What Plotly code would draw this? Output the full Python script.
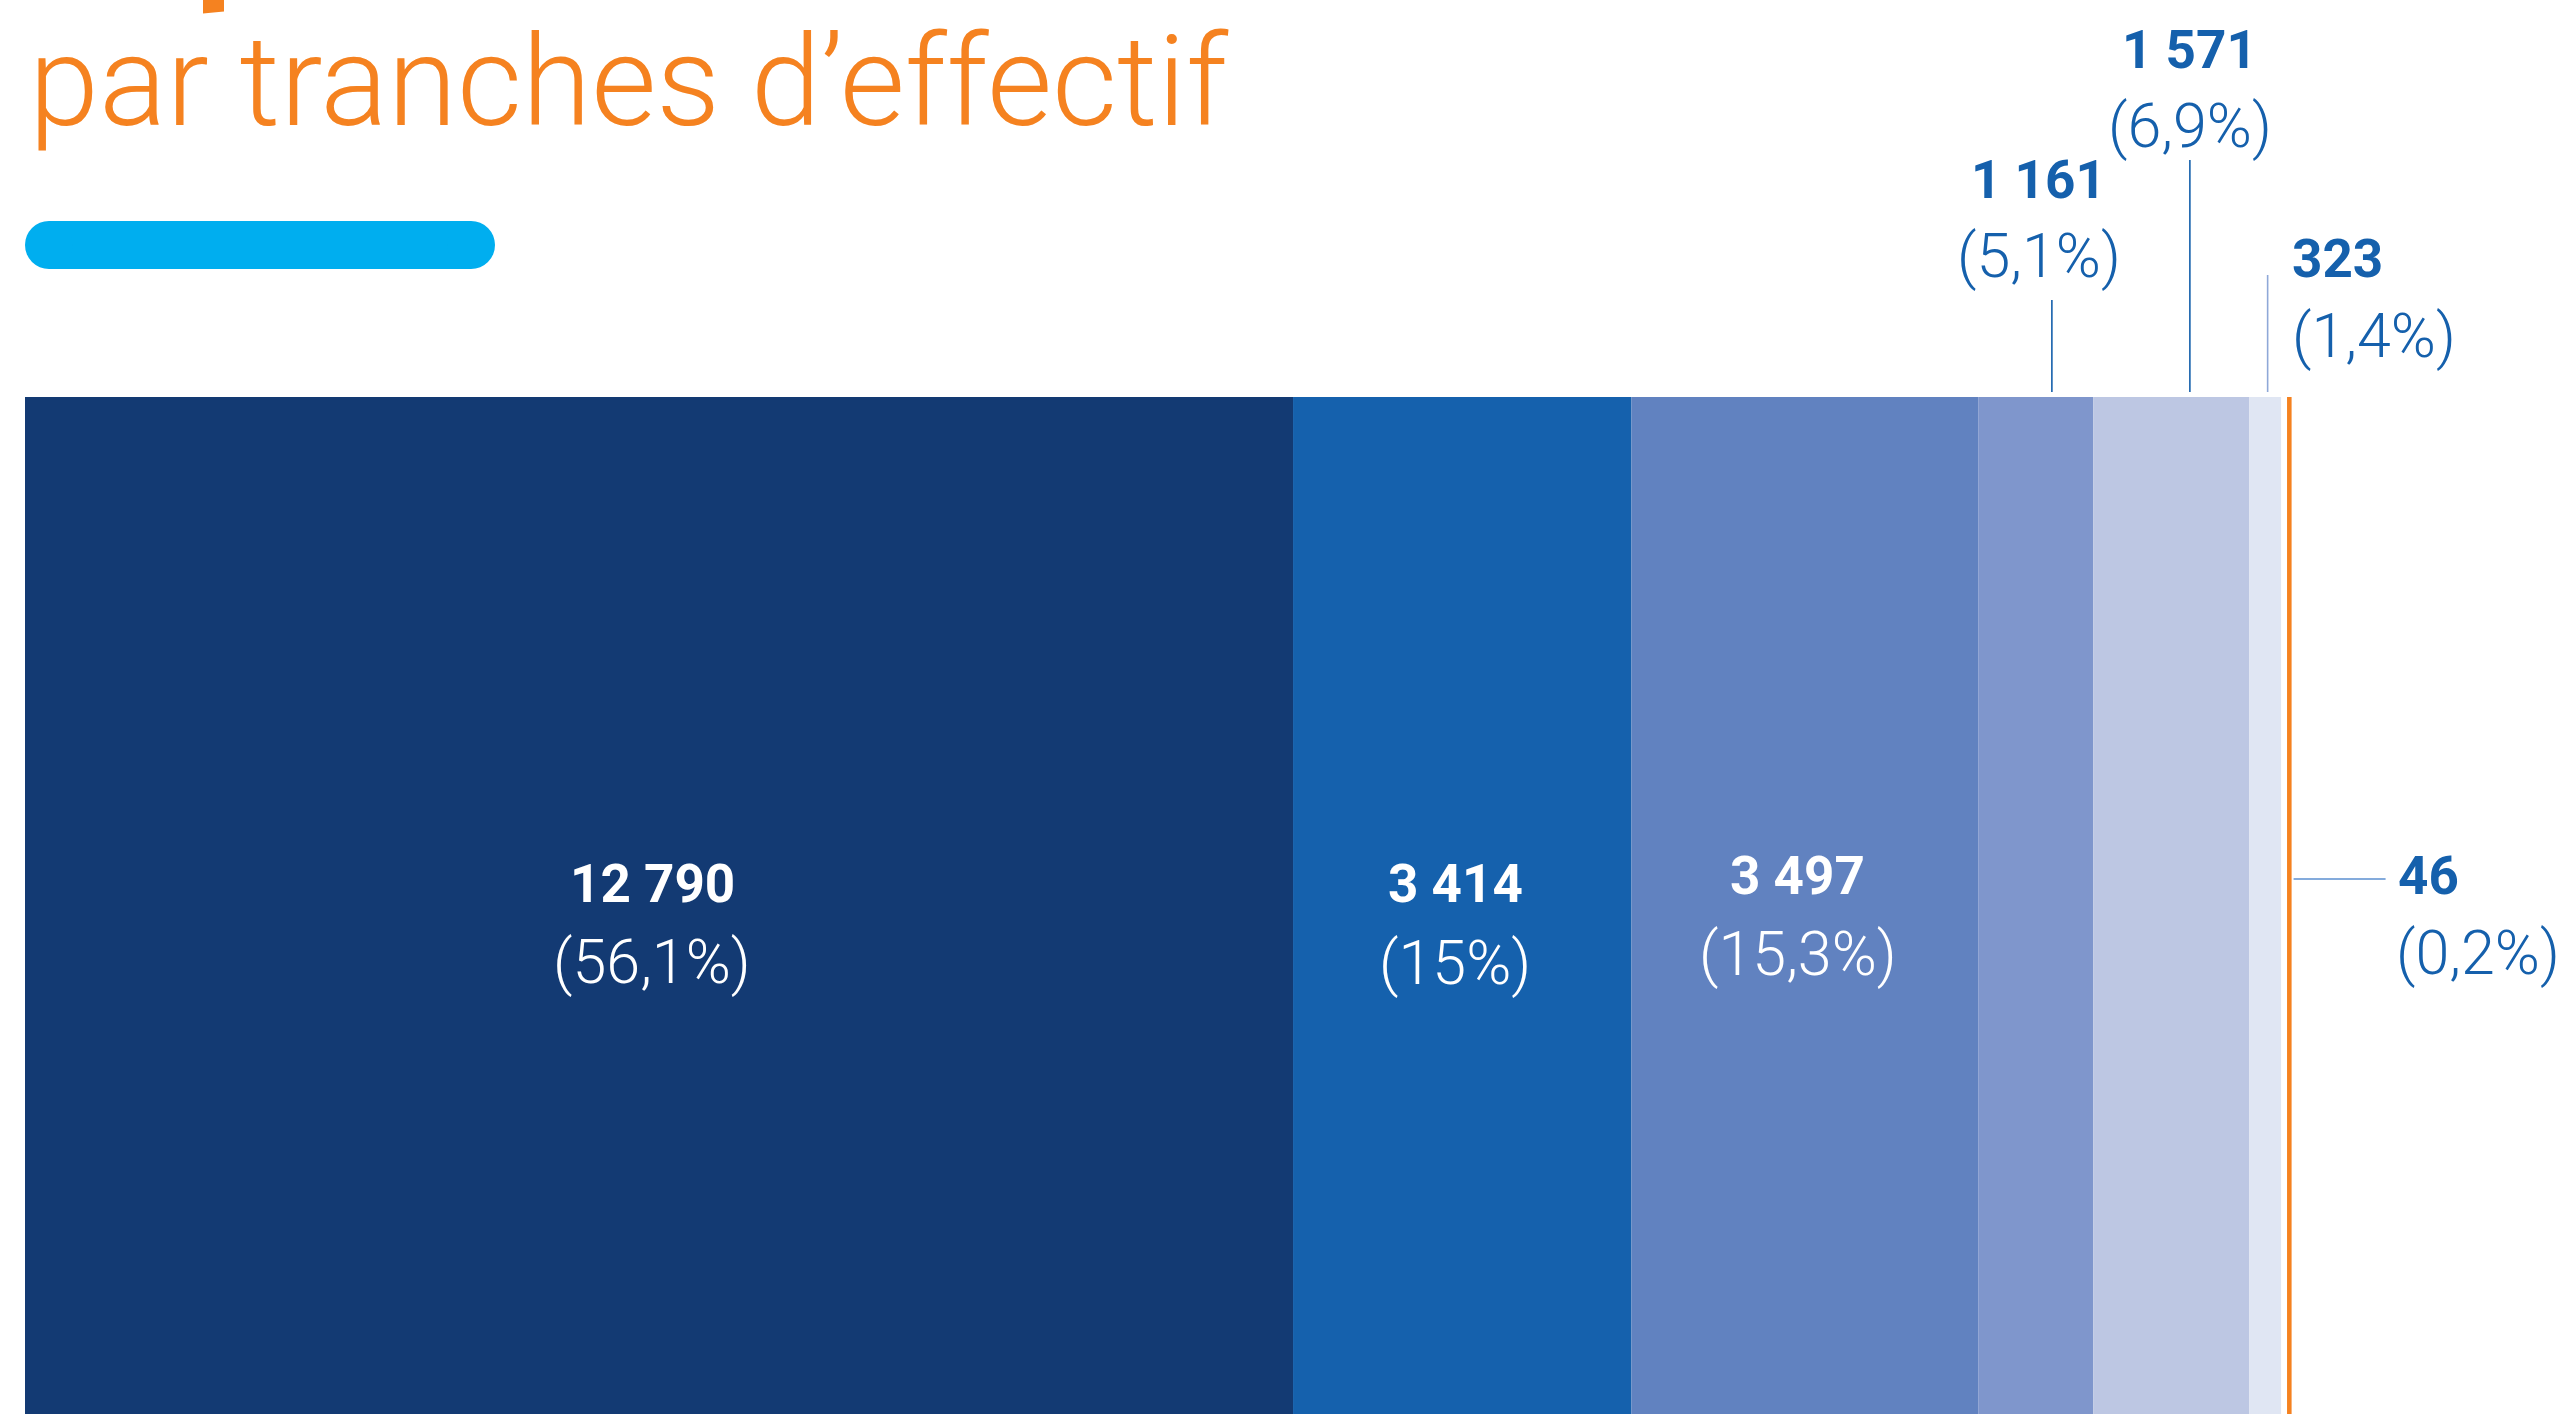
import plotly.graph_objects as go

# ---------------- data ----------------
categories = ["a", "b", "c", "d", "e", "f", "g"]
values = [12790, 3414, 3497, 1161, 1571, 323, 46]
value_labels = ["12 790", "3 414", "3 497", "1 161", "1 571", "323", "46"]
pct_labels = ["(56,1%)", "(15%)", "(15,3%)", "(5,1%)", "(6,9%)", "(1,4%)", "(0,2%)"]
title_text = "par tranches d\u2019effectif"

# ---------------- style / layout ----------------
colors = ["#133A73", "#1561AD", "#6182C0", "#7F96CC", "#BDC7E3", "#E0E6F3", "#F58220"]
W, H = 2569, 1414
TOP = 397
LEFT = 25
PLOT_W = W - LEFT
PLOT_H = H - TOP
XMAX = 25660
S = PLOT_W / XMAX          # px per unit
GAP_LAST = 60               # white gap before the last (orange) segment, in units

ORANGE = "#F58220"
BLUE = "#1560AC"
NUM_FONT = dict(family="Roboto", size=53, color="white", weight=700)
PCT_FONT = dict(family="Roboto", size=61, color="white", weight=300)


def yp(py):
    return 1 - (py - TOP) / PLOT_H


def xp(px):
    return (px - LEFT) / PLOT_W


def mid(baseline, fs):
    return yp(baseline - 0.35 * fs)


starts = []
acc = 0
for i, v in enumerate(values):
    if i == len(values) - 1:
        acc += GAP_LAST
    starts.append(acc)
    acc += v

fig = go.Figure()
fig.add_trace(go.Bar(
    y=[0] * len(values), x=values, base=starts, orientation="h",
    width=1, marker=dict(color=colors, line=dict(width=0)),
    hoverinfo="skip", showlegend=False,
))

annotations = []
shapes = []

# inner labels (first three segments): (index, number baseline, pct baseline)
inner = [(0, 903, 983), (1, 903, 984), (2, 895, 975)]
for i, bn, bp in inner:
    cx = starts[i] + values[i] / 2
    annotations.append(dict(x=cx, y=mid(bn, NUM_FONT["size"]), xref="x", yref="paper",
                            text=value_labels[i], showarrow=False, xanchor="center",
                            yanchor="middle", font=NUM_FONT, xshift=-7))
    annotations.append(dict(x=cx, y=mid(bp, PCT_FONT["size"]), xref="x", yref="paper",
                            text=pct_labels[i], showarrow=False, xanchor="center",
                            yanchor="middle", font=PCT_FONT, xshift=-7))

num_blue = dict(NUM_FONT, color=BLUE)
pct_blue = dict(PCT_FONT, color=BLUE)

# labels above the bar with vertical connectors
above = [
    # index, frac along segment, connector top px, number baseline, pct baseline, anchor, xshift, line color
    (3, 0.64, 300, 199, 277, "center", -13, BLUE),
    (4, 0.62, 160, 69, 147, "center", 0, BLUE),
    (5, 0.58, 275, 278, 357, "left", 0, "#8FA8D8"),
]
for i, frac, ctop, bn, bp, anchor, xs, lc in above:
    cx = starts[i] + values[i] * frac
    shapes.append(dict(type="line", xref="x", yref="paper", x0=cx, x1=cx,
                       y0=yp(ctop), y1=yp(392), line=dict(color=lc, width=1.6)))
    if anchor == "center":
        ax, sh = cx, xs
    else:
        ax, sh = starts[i] + values[i], 9
    annotations.append(dict(x=ax, y=mid(bn, NUM_FONT["size"]), xref="x", yref="paper",
                            text=value_labels[i], showarrow=False, xanchor=anchor,
                            yanchor="middle", font=num_blue, xshift=sh))
    annotations.append(dict(x=ax, y=mid(bp, PCT_FONT["size"]), xref="x", yref="paper",
                            text=pct_labels[i], showarrow=False, xanchor=anchor,
                            yanchor="middle", font=pct_blue, xshift=sh))

# last segment: horizontal connector to the right
i = 6
endx = starts[i] + values[i]
shapes.append(dict(type="line", xref="x", yref="paper", x0=endx + 20, x1=endx + 20 + 92 / S,
                   y0=yp(879), y1=yp(879), line=dict(color="#5B8FD0", width=1.6)))
annotations.append(dict(x=endx, y=mid(895, NUM_FONT["size"]), xref="x", yref="paper",
                        text=value_labels[i], showarrow=False, xanchor="left",
                        yanchor="middle", font=num_blue, xshift=104))
annotations.append(dict(x=endx, y=mid(974, PCT_FONT["size"]), xref="x", yref="paper",
                        text=pct_labels[i], showarrow=False, xanchor="left",
                        yanchor="middle", font=pct_blue, xshift=102))

# title
TITLE_FS = 126
annotations.append(dict(x=xp(27), y=mid(126, TITLE_FS), xref="paper", yref="paper",
                        text=title_text, showarrow=False, xanchor="left", yanchor="middle",
                        font=dict(family="Roboto", size=TITLE_FS, color=ORANGE, weight=300)))

# cut-off glyph remnant of the previous title line
shapes.append(dict(type="path", xref="paper", yref="paper",
                   path=f"M {xp(203)},{yp(-5)} L {xp(224)},{yp(-5)} L {xp(224)},{yp(11.5)} L {xp(203)},{yp(13.5)} Z",
                   fillcolor=ORANGE, line=dict(width=0)))

# blue pill under the title
PILL = "#00AEEF"
r = 24
shapes.append(dict(type="rect", xref="paper", yref="paper", x0=xp(25 + r), x1=xp(495 - r),
                   y0=yp(269), y1=yp(221), fillcolor=PILL, line=dict(width=0)))
for cxp in (25 + r, 495 - r):
    shapes.append(dict(type="circle", xref="paper", yref="paper", x0=xp(cxp - r), x1=xp(cxp + r),
                       y0=yp(269), y1=yp(221), fillcolor=PILL, line=dict(width=0)))

fig.update_layout(
    width=W, height=H,
    margin=dict(l=LEFT, r=0, t=TOP, b=0, pad=0),
    paper_bgcolor="white", plot_bgcolor="white",
    xaxis=dict(range=[0, XMAX], visible=False, fixedrange=True),
    yaxis=dict(range=[-0.5, 0.5], visible=False, fixedrange=True),
    annotations=annotations, shapes=shapes,
    showlegend=False,
)

fig.write_html("out.html", config={"displayModeBar": False},
               post_script="document.body.style.margin='0';")
